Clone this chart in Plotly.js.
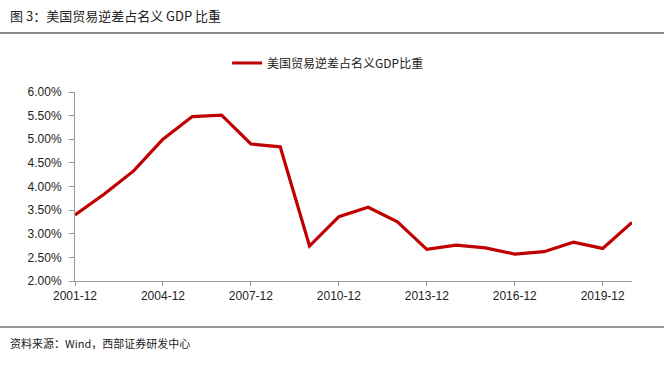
<!DOCTYPE html>
<html>
<head>
<meta charset="utf-8">
<script src="https://cdn.plot.ly/plotly-3.0.1.min.js"></script>
<style>html,body{margin:0;padding:0;background:#fff;}#chart{width:664px;height:366px;}</style>
</head>
<body>
<div id="chart"></div>
<script>
const categories = ["2001-12","2002-12","2003-12","2004-12","2005-12","2006-12","2007-12","2008-12","2009-12","2010-12","2011-12","2012-12","2013-12","2014-12","2015-12","2016-12","2017-12","2018-12","2019-12","2020-12"];
const deficitShare = [3.40,3.84,4.33,5.00,5.48,5.51,4.90,4.84,2.74,3.36,3.56,3.25,2.67,2.76,2.70,2.57,2.62,2.82,2.69,3.24];
const xTickLabels = ["2001-12","2004-12","2007-12","2010-12","2013-12","2016-12","2019-12"];
const yTicks = [2.0,2.5,3.0,3.5,4.0,4.5,5.0,5.5,6.0];
const seriesName = "美国贸易逆差占名义GDP比重";

const cjk = '"Noto Sans CJK SC", "Noto Sans", sans-serif';
const latin = '"Liberation Sans", Arial, sans-serif';

const trace = {
  x: categories, y: deficitShare, type: 'scatter', mode: 'lines',
  name: seriesName,
  line: {color: '#C00000', width: 3.2}
};

const layout = {
  width: 664, height: 366,
  margin: {l: 75, r: 32, t: 92, b: 85},
  paper_bgcolor: '#fff', plot_bgcolor: '#fff',
  showlegend: true,
  legend: {orientation: 'h', xref: 'container', yref: 'container', x: 0.342, xanchor: 'left', y: 1 - 63/366, yanchor: 'middle',
           font: {family: cjk, size: 12, color: '#222'}, bgcolor: 'rgba(0,0,0,0)'},
  xaxis: {
    type: 'category', range: [0, categories.length - 1],
    tickmode: 'array', tickvals: xTickLabels, ticktext: xTickLabels,
    showgrid: false, zeroline: false,
    showline: true, linecolor: '#999', linewidth: 1,
    ticks: 'outside', ticklen: 4, tickcolor: '#999',
    tickfont: {family: latin, size: 12, color: '#222'}
  },
  yaxis: {
    range: [2, 6], tickmode: 'array', tickvals: yTicks,
    ticktext: yTicks.map(v => v.toFixed(2) + '%'),
    showgrid: false, zeroline: false,
    showline: true, linecolor: '#999', linewidth: 1,
    ticks: 'outside', ticklen: 5, tickcolor: '#999',
    ticklabelstandoff: 5,
    tickfont: {family: latin, size: 12, color: '#222'}
  },
  shapes: [
    {type: 'line', xref: 'paper', yref: 'paper', x0: -75/557, x1: (664-75)/557, y0: 1 + (92-33)/189, y1: 1 + (92-33)/189, line: {color: '#666', width: 1.5}},
    {type: 'line', xref: 'paper', yref: 'paper', x0: -75/557, x1: (664-75)/557, y0: -(327-281)/189, y1: -(327-281)/189, line: {color: '#333', width: 1}}
  ],
  annotations: [
    {xref: 'paper', yref: 'paper', x: -67/557, xanchor: 'left', y: 1 + (92-15)/189, yanchor: 'middle', showarrow: false,
     text: '图 3：美国贸易逆差占名义 GDP 比重', font: {family: cjk, size: 13, color: '#222'}},
    {xref: 'paper', yref: 'paper', x: -67/557, xanchor: 'left', y: -(343-281)/189, yanchor: 'middle', showarrow: false,
     text: '资料来源：Wind，西部证券研发中心', font: {family: cjk, size: 11, color: '#222'}}
  ]
};

Plotly.newPlot('chart', [trace], layout, {displayModeBar: false, staticPlot: true});
</script>
</body>
</html>
